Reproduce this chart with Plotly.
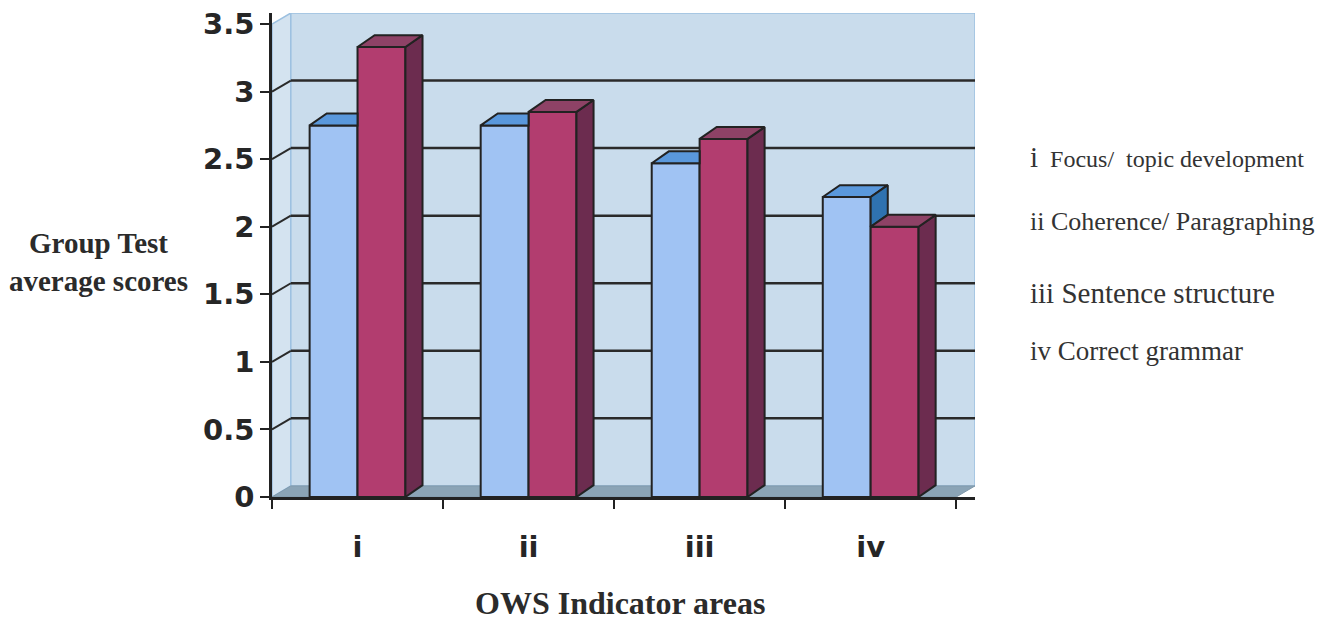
import plotly.graph_objects as go

# ---------------- data ----------------
categories = ["i", "ii", "iii", "iv"]
series_blue = [2.75, 2.75, 2.47, 2.22]
series_red = [3.33, 2.85, 2.65, 2.00]
y_tick_vals = [0, 0.5, 1, 1.5, 2, 2.5, 3, 3.5]
y_tick_text = ["0", "0.5", "1", "1.5", "2", "2.5", "3", "3.5"]
legend_keys = ["i", "ii", "iii", "iv"]
legend_labels = ["Focus/\u00a0 topic development", "Coherence/ Paragraphing",
                 "Sentence structure", "Correct grammar"]
y_title = "Group Test<br>average scores"
x_title = "OWS Indicator areas"

# ---------------- style / geometry ----------------
BW = 0.28          # bar width (category units)
BDX, BDY = 0.10, 0.088   # bar depth offset
WDX, WDY = 0.11, 0.082   # wall depth offset
XMIN, XMAX = -0.5, 3.5
YMAX = 3.5

BLUE_FRONT, BLUE_TOP, BLUE_SIDE = "#a0c3f3", "#5a98dc", "#2f72b0"
RED_FRONT, RED_TOP, RED_SIDE = "#b23d6f", "#8e4266", "#6c2c4f"
EDGE = "#222222"
WALL, LWALL, FLOOR, WALL_EDGE = "#c9dcec", "#d4e3f0", "#8ba4b6", "#9cc0e0"

OFF = 8  # page body margin
W, H = 1330 - OFF, 622 - OFF
ML, MT = 272 - OFF, 13 - OFF
PLOT_R, PLOT_B = 975 - OFF, 497 - OFF
MR, MB = W - PLOT_R, H - PLOT_B
PW, PH = W - ML - MR, H - MT - MB

xs = list(range(len(categories)))

fig = go.Figure()

# front faces
fig.add_trace(go.Bar(x=xs, y=series_blue, width=BW, offset=-BW,
                     marker=dict(color=BLUE_FRONT, line=dict(color=EDGE, width=2)),
                     name="blue", hoverinfo="skip"))
fig.add_trace(go.Bar(x=xs, y=series_red, width=BW, offset=0,
                     marker=dict(color=RED_FRONT, line=dict(color=EDGE, width=2)),
                     name="red", hoverinfo="skip"))


def poly_trace(polys, color):
    px, py = [], []
    for p in polys:
        for (a, b) in p:
            px.append(a)
            py.append(b)
        px.append(p[0][0]); py.append(p[0][1])
        px.append(None); py.append(None)
    return go.Scatter(x=px, y=py, mode="lines", fill="toself", fillcolor=color,
                      line=dict(color=EDGE, width=2), hoverinfo="skip", showlegend=False)


blue_tops, blue_sides, red_tops, red_sides = [], [], [], []
for c, v, r in zip(xs, series_blue, series_red):
    bx0, bx1 = c - BW, c
    rx0, rx1 = c, c + BW
    if r >= v + BDY:
        blue_tops.append([(bx0, v), (bx1, v), (bx1, v + BDY), (bx0 + BDX, v + BDY)])
    else:
        blue_tops.append([(bx0, v), (bx1, v), (bx1 + BDX, v + BDY), (bx0 + BDX, v + BDY)])
        base = min(r, v)
        blue_sides.append([(bx1, base), (bx1 + BDX, base + BDY), (bx1 + BDX, v + BDY), (bx1, v)])
    red_sides.append([(rx1, 0), (rx1 + BDX, BDY), (rx1 + BDX, r + BDY), (rx1, r)])
    red_tops.append([(rx0, r), (rx1, r), (rx1 + BDX, r + BDY), (rx0 + BDX, r + BDY)])

fig.add_trace(poly_trace(blue_tops, BLUE_TOP))
if blue_sides:
    fig.add_trace(poly_trace(blue_sides, BLUE_SIDE))
fig.add_trace(poly_trace(red_sides, RED_SIDE))
fig.add_trace(poly_trace(red_tops, RED_TOP))

# ---------------- walls, floor, gridlines (below traces) ----------------
shapes = []
shapes.append(dict(type="path", layer="below",
                   path=f"M {XMIN},0 L {XMIN+WDX},{WDY} L {XMIN+WDX},{YMAX+WDY} L {XMIN},{YMAX} Z",
                   fillcolor=LWALL, line=dict(color=WALL_EDGE, width=1.5)))
shapes.append(dict(type="rect", layer="below", x0=XMIN + WDX, y0=WDY, x1=XMAX + WDX, y1=YMAX + WDY,
                   fillcolor=WALL, line=dict(color=WALL_EDGE, width=1.5)))
shapes.append(dict(type="path", layer="below",
                   path=f"M {XMIN},0 L {XMAX},0 L {XMAX+WDX},{WDY} L {XMIN+WDX},{WDY} Z",
                   fillcolor=FLOOR, line=dict(color="#7f98aa", width=1)))
for v in y_tick_vals[1:-1]:
    shapes.append(dict(type="line", layer="below", x0=XMIN + WDX, y0=v + WDY, x1=XMAX + WDX, y1=v + WDY,
                       line=dict(color="#2a2a2a", width=2.5)))
    shapes.append(dict(type="line", layer="below", x0=XMIN, y0=v, x1=XMIN + WDX, y1=v + WDY,
                       line=dict(color="#2a2a2a", width=2)))

# ---------------- annotations (positions given in page pixels) ----------------
def px_to_paper_x(px):
    return (px - OFF - ML) / PW


def py_to_paper_y(py):
    return (H - MB - (py - OFF)) / PH


annotations = []
annotations.append(dict(text=y_title, x=px_to_paper_x(98), y=py_to_paper_y(262), xref="paper", yref="paper",
                        showarrow=False, xanchor="center", yanchor="middle", align="center",
                        font=dict(family="Liberation Serif", size=29, color="#2b2b2b", weight="bold")))
annotations.append(dict(text=x_title, x=px_to_paper_x(620), y=py_to_paper_y(603), xref="paper", yref="paper",
                        showarrow=False, xanchor="center", yanchor="middle",
                        font=dict(family="Liberation Serif", size=32, color="#2b2b2b", weight="bold")))

leg_y = [157, 221, 293, 351]
leg_sizes = [24, 26, 29, 27]
for k, lab, yy, fs in zip(legend_keys, legend_labels, leg_y, leg_sizes):
    if k == "i":
        txt = f'<span style="font-size:29px">{k}</span>\u00a0 {lab}'
    else:
        txt = f"{k} {lab}"
    annotations.append(dict(text=txt, x=px_to_paper_x(1028), y=py_to_paper_y(yy), xref="paper", yref="paper",
                            showarrow=False, xanchor="left", yanchor="middle",
                            font=dict(family="Liberation Serif", size=fs, color="#333333")))

tick_font = dict(family="DejaVu Sans", size=29, color="#262626", weight="bold")

fig.update_layout(
    width=W, height=H,
    margin=dict(l=ML, r=MR, t=MT, b=MB, pad=0, autoexpand=False),
    paper_bgcolor="white", plot_bgcolor="white",
    barmode="overlay", showlegend=False,
    shapes=shapes, annotations=annotations,
    xaxis=dict(range=[XMIN, XMAX + WDX], tickmode="array", tickvals=xs, ticktext=categories,
               ticks="", showline=True, linecolor=EDGE, linewidth=2.5, showgrid=False, zeroline=False,
               tickfont=tick_font, ticklabelstandoff=22, ticklabeloverflow="allow", automargin=False,
               minor=dict(tickmode="array", tickvals=[-0.5, 0.5, 1.5, 2.5, 3.5], ticks="outside",
                          ticklen=9, tickwidth=2, tickcolor=EDGE, showgrid=False)),
    yaxis=dict(range=[0, YMAX + WDY], tickmode="array", tickvals=y_tick_vals, ticktext=y_tick_text,
               ticks="outside", ticklen=9, tickwidth=2, tickcolor=EDGE, showline=True, linecolor=EDGE,
               linewidth=2.5, showgrid=False, zeroline=False, tickfont=tick_font,
               ticklabeloverflow="allow", automargin=False),
)

fig.write_html("out.html")
